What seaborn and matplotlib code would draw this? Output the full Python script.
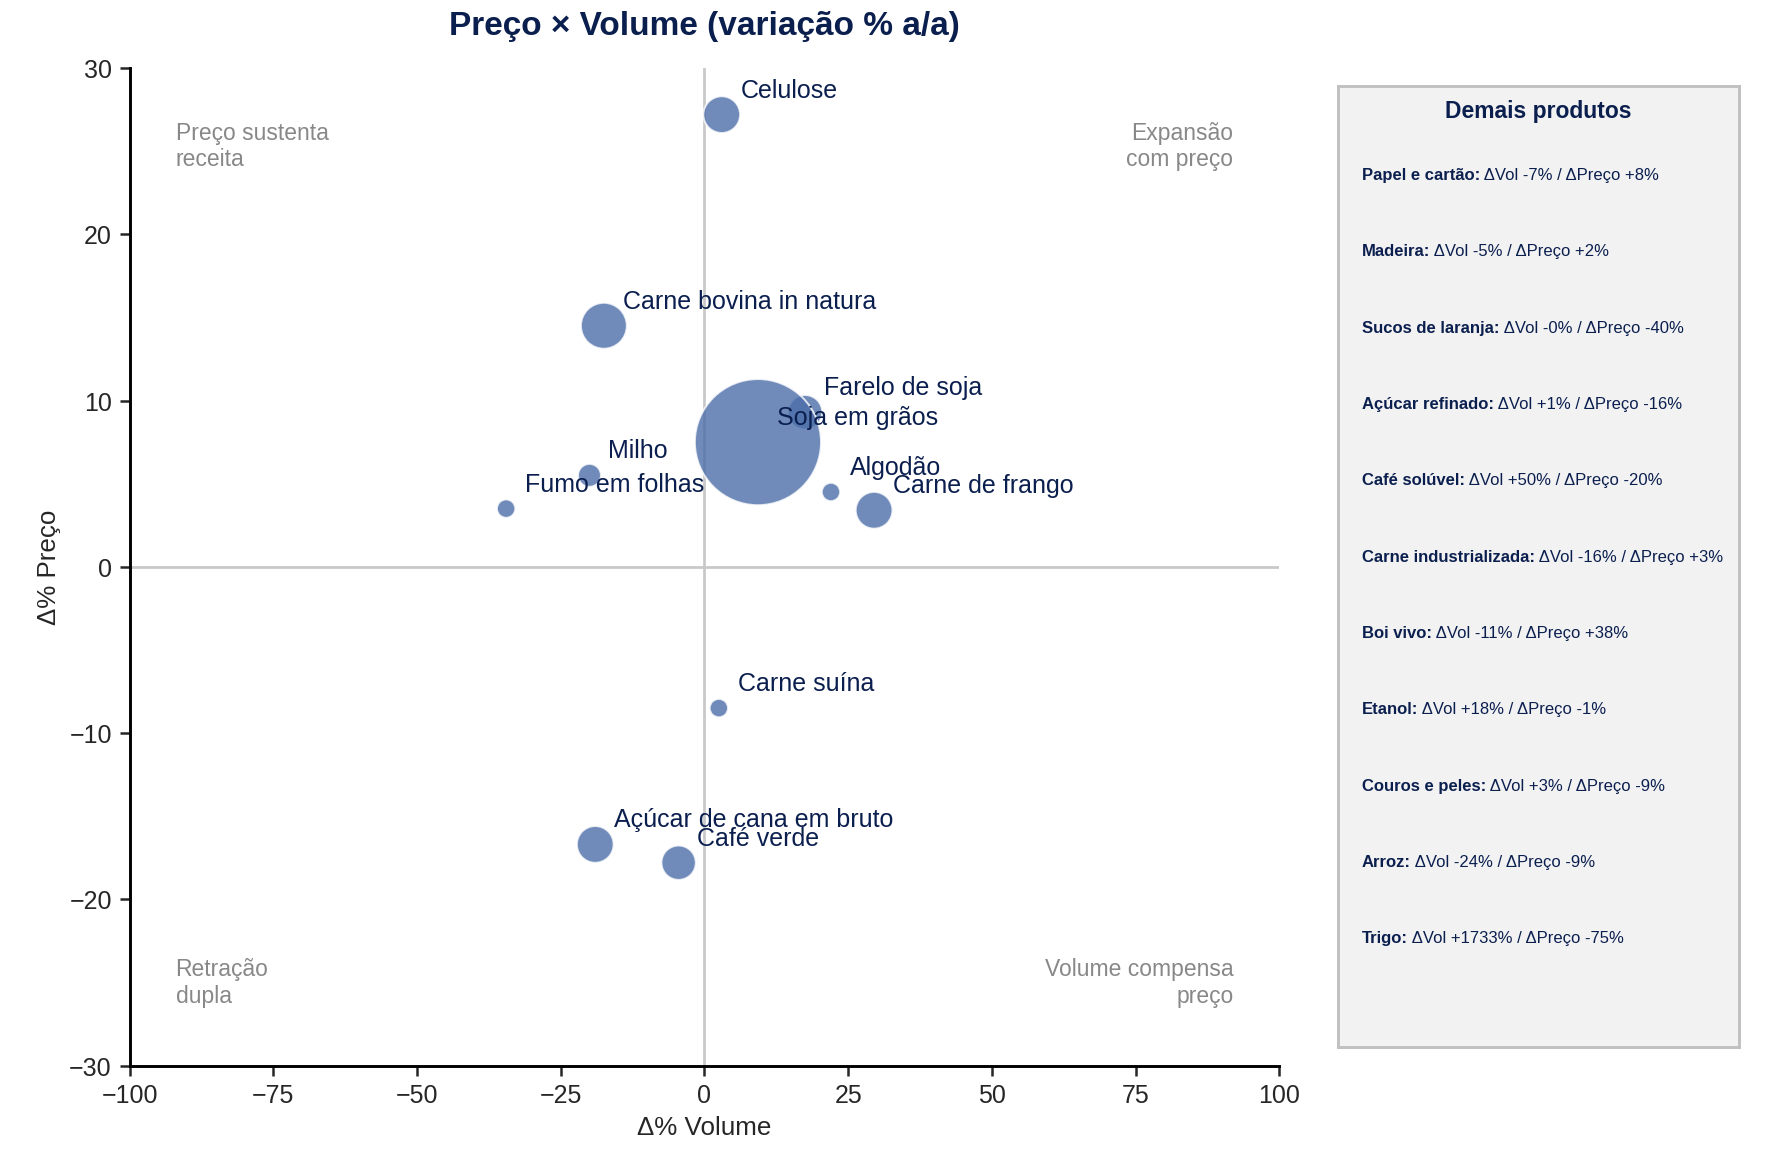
import matplotlib
matplotlib.use("Agg")
import matplotlib.pyplot as plt
import seaborn as sns
import pandas as pd

# principais produtos: variação % a/a
produtos = ['Celulose', 'Carne bovina in natura', 'Farelo de soja', 'Soja em grãos',
            'Milho', 'Fumo em folhas', 'Algodão', 'Carne de frango', 'Carne suína',
            'Açúcar de cana em bruto', 'Café verde']
dvol = [3, -17.5, 17.5, 9.3, -20, -34.5, 22, 29.5, 2.5, -19, -4.5]
dpreco = [27.2, 14.5, 9.3, 7.5, 5.5, 3.5, 4.5, 3.4, -8.5, -16.7, -17.8]
peso = [310, 484, 271, 3660, 120, 77, 77, 310, 77, 310, 271]

# demais produtos (painel lateral)
outros = ['Papel e cartão', 'Madeira', 'Sucos de laranja', 'Açúcar refinado', 'Café solúvel',
          'Carne industrializada', 'Boi vivo', 'Etanol', 'Couros e peles', 'Arroz', 'Trigo']
outros_vol = ['-7', '-5', '-0', '+1', '+50', '-16', '-11', '+18', '+3', '-24', '+1733']
outros_preco = ['+8', '+2', '-40', '-16', '-20', '+3', '+38', '-1', '-9', '-9', '-75']

sns.set_style("ticks")
plt.rcParams['font.family'] = ['Liberation Sans', 'DejaVu Sans']

navy = '#0b1f4f'
df = pd.DataFrame({'produto': produtos, 'vol': dvol, 'preco': dpreco, 'peso': peso})

fig = plt.figure(figsize=(11.83, 7.75), dpi=150)
ax = fig.add_axes([0.073, 0.083, 0.648, 0.858])
ax.axhline(0, color='#c8c8c8', lw=1.3, zorder=0)
ax.axvline(0, color='#c8c8c8', lw=1.3, zorder=0)
sns.scatterplot(data=df, x='vol', y='preco', size='peso', sizes=(min(peso), max(peso)),
                size_norm=(min(peso), max(peso)), color='#4c6ea9', alpha=0.8,
                edgecolor='white', linewidth=0.9, legend=False, ax=ax)
for _, r in df.iterrows():
    ax.annotate(r['produto'], (r['vol'], r['preco']), xytext=(9, 6),
                textcoords='offset points', fontsize=12, color=navy, va='bottom')

ax.set_xlim(-100, 100)
ax.set_ylim(-30, 30)
ax.set_xlabel('Δ% Volume', fontsize=12.5)
ax.set_ylabel('Δ% Preço', fontsize=12.5)
ax.tick_params(labelsize=12, width=1.2, length=5)
for s in ['left', 'bottom']:
    ax.spines[s].set_linewidth(1.4)
    ax.spines[s].set_color('black')
ax.set_title('Preço × Volume (variação % a/a)', fontsize=16, fontweight='bold', color=navy, pad=16)
sns.despine(ax=ax)

q = dict(fontsize=11, color='#888888', va='top')
ax.text(-92, 26.8, 'Preço sustenta\nreceita', ha='left', **q)
ax.text(92, 26.8, 'Expansão\ncom preço', ha='right', **q)
ax.text(-92, -23.5, 'Retração\ndupla', ha='left', **q)
ax.text(92, -23.5, 'Volume compensa\npreço', ha='right', **q)

pan = fig.add_axes([0.754, 0.099, 0.226, 0.827])
pan.set_xticks([]); pan.set_yticks([])
pan.set_facecolor('#f2f2f2')
for s in pan.spines.values():
    s.set_color('#c0c0c0'); s.set_linewidth(1.4)
pan.set_xlim(0, 1); pan.set_ylim(0, 1)
pan.text(0.5, 0.974, 'Demais produtos', ha='center', va='center', fontsize=11,
         fontweight='bold', color=navy)
for i, nome in enumerate(outros):
    y = 0.907 - i * 0.0794
    t = pan.text(0.06, y, nome + ':', fontsize=8, fontweight='bold', color=navy, va='center')
    pan.annotate(f' ΔVol {outros_vol[i]}% / ΔPreço {outros_preco[i]}%', xy=(1, 0.5),
                 xycoords=t, va='center', fontsize=8, color=navy)

fig.savefig('out.png', dpi=150)
